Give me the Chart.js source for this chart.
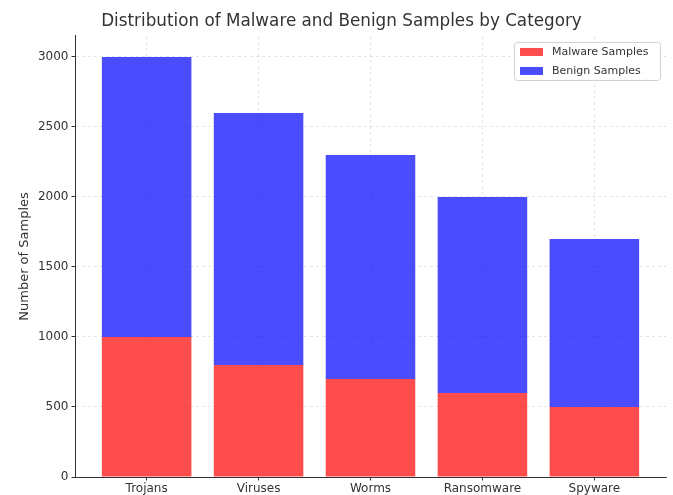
<!DOCTYPE html>
<html lang="en">
<head>
  <meta charset="UTF-8">
  <title>Distribution of Malware and Benign Samples by Category</title>
  <script src="https://cdn.jsdelivr.net/npm/chart.js@4.4.1/dist/chart.umd.min.js"></script>
  <style>
    body { margin: 0; padding: 0; background: #fff; }
    .wrap { width: 673px; height: 495px; }
  </style>
</head>
<body>
  <div class="wrap">
    <canvas id="chart" width="673" height="495"></canvas>
  </div>

  <script>
    // dados do gráfico
    const categories = ['Trojans', 'Viruses', 'Worms', 'Ransomware', 'Spyware'];
    const malwareSamples = [1000, 800, 700, 600, 500];
    const benignSamples = [2000, 1800, 1600, 1400, 1200];
    const yTicks = [0, 500, 1000, 1500, 2000, 2500, 3000];

    const FONT = "'DejaVu Sans', sans-serif";
    const RED = 'rgba(255, 0, 0, 0.7)';
    const BLUE = 'rgba(0, 0, 255, 0.7)';

    // legenda com moldura dentro da área do gráfico
    const boxLegend = {
      id: 'boxLegend',
      afterDraw(chart) {
        const ctx = chart.ctx;
        const area = chart.chartArea;
        const items = chart.data.datasets;
        const w = 146, h = 38;
        const x = area.right - w - 6, y = area.top + 6;
        ctx.save();
        ctx.fillStyle = 'rgba(255,255,255,0.8)';
        ctx.strokeStyle = '#d0d0d0';
        ctx.lineWidth = 1;
        ctx.beginPath();
        ctx.roundRect(x + 0.5, y + 0.5, w, h, 3);
        ctx.fill();
        ctx.stroke();
        ctx.font = '11px ' + FONT;
        ctx.textBaseline = 'middle';
        items.forEach((ds, i) => {
          const cy = y + 10 + i * 19;
          ctx.fillStyle = ds.backgroundColor;
          ctx.fillRect(x + 6, cy - 4, 23, 8);
          ctx.fillStyle = '#333';
          ctx.fillText(ds.label, x + 38, cy);
        });
        ctx.restore();
      }
    };

    const gridOpts = {
      offset: false,
      color: 'rgba(0,0,0,0.13)', lineWidth: 0.8,
      drawTicks: true, tickLength: 3.5, tickColor: '#333', tickWidth: 1
    };

    const ctx = document.getElementById('chart').getContext('2d');
    const chart = new Chart(ctx, {
      type: 'bar',
      data: {
        datasets: [
          {
            label: 'Malware Samples',
            data: malwareSamples.map((v, i) => ({ x: i, y: v })),
            backgroundColor: RED,
            barPercentage: 0.8,
            categoryPercentage: 1.0
          },
          {
            label: 'Benign Samples',
            data: benignSamples.map((v, i) => ({ x: i, y: v })),
            backgroundColor: BLUE,
            barPercentage: 0.8,
            categoryPercentage: 1.0
          }
        ]
      },
      options: {
        responsive: false,
        animation: false,
        layout: { padding: { left: 17, right: 7, top: 0, bottom: 0 } },
        plugins: {
          legend: { display: false },
          tooltip: { enabled: false },
          title: {
            display: true,
            text: 'Distribution of Malware and Benign Samples by Category',
            color: '#333',
            font: { family: FONT, size: 16.8, weight: 'normal' },
            padding: { top: 12, bottom: 3.8 }
          }
        },
        scales: {
          x: {
            type: 'linear',
            stacked: true,
            offset: false,
            min: -0.64,
            max: 4.64,
            afterBuildTicks: s => { s.ticks = categories.map((c, i) => ({ value: i })); },
            afterFit: s => { s.height = 18; },
            ticks: {
              color: '#333',
              font: { family: FONT, size: 12 },
              padding: 1,
              maxRotation: 0,
              callback: v => categories[v]
            },
            grid: gridOpts,
            border: { display: true, color: '#333', width: 1, dash: [3, 3] }
          },
          y: {
            stacked: true,
            min: 0,
            max: 3150,
            afterBuildTicks: s => { s.ticks = yTicks.map(v => ({ value: v })); },
            afterFit: s => { s.width = 58; },
            ticks: {
              color: '#333',
              font: { family: FONT, size: 12 },
              padding: 3,
              callback: v => String(v)
            },
            title: {
              display: true,
              text: 'Number of Samples',
              color: '#333',
              font: { family: FONT, size: 13 },
              padding: { top: 0, bottom: 4 }
            },
            grid: gridOpts,
            border: { display: true, color: '#333', width: 1, dash: [3, 3] }
          }
        }
      },
      plugins: [boxLegend]
    });
  </script>
</body>
</html>
